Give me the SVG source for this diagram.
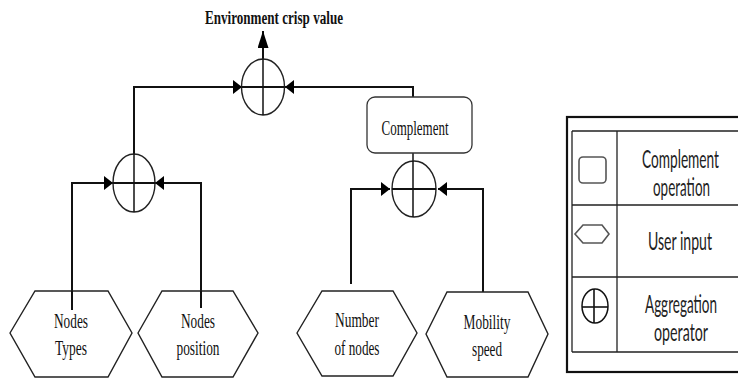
<svg xmlns="http://www.w3.org/2000/svg" width="738" height="379" viewBox="0 0 738 379">
  <style>
    .hex { fill: #fff; stroke: #222; stroke-width: 1.4; }
    .agg { fill: #fff; stroke: #222; stroke-width: 1.4; }
    .cross { stroke: #111; stroke-width: 1.5; }
    .crossH { stroke: #111; stroke-width: 2; }
    .conn { fill: none; stroke: #111; stroke-width: 2; }
    .lbl { font-family: "Liberation Serif", "Times New Roman", serif; font-size: 22px; fill: #111; text-anchor: middle; }
    .title { font-family: "Liberation Serif", "Times New Roman", serif; font-size: 18px; font-weight: bold; fill: #111; text-anchor: middle; }
    .leg { font-family: Lato, "Open Sans", "Liberation Sans", sans-serif; font-size: 15px; fill: #222; text-anchor: middle; }
    .grid { stroke: #222; stroke-width: 1.3; fill: none; }
  </style>
  <defs>
    <marker id="arr" markerUnits="userSpaceOnUse" markerWidth="9" markerHeight="14" refX="9" refY="7" orient="auto">
      <path d="M0,0 L9,7 L0,14 z" fill="#000"/>
    </marker>
    <marker id="arrUp" markerUnits="userSpaceOnUse" markerWidth="17" markerHeight="11" refX="17" refY="5.5" orient="auto">
      <path d="M0,0 L17,5.5 L0,11 z" fill="#000"/>
    </marker>
  </defs>

  <!-- output label -->
  <text class="title" x="274" y="24" textLength="138" lengthAdjust="spacingAndGlyphs">Environment crisp value</text>

  <!-- connectors -->
  <g id="connectors">
    <path class="conn" d="M263,59 L263,31" marker-end="url(#arrUp)"/>
    <path class="conn" d="M134,154 L134,87 L242,87" marker-end="url(#arr)"/>
    <path class="conn" d="M413,97 L413,87 L285,87" marker-end="url(#arr)"/>
    <path class="conn" d="M413,161 L413,153" style="stroke-width:1.5"/>
    <path class="conn" d="M72,310 L72,183 L113,183" marker-end="url(#arr)"/>
    <path class="conn" d="M201,308 L201,183 L155,183" marker-end="url(#arr)"/>
    <path class="conn" d="M351,284 L351,189 L390,189" marker-end="url(#arr)"/>
    <path class="conn" d="M483,293 L483,189 L438,189" marker-end="url(#arr)"/>
  </g>

  <!-- aggregation operators -->
  <g id="agg-top">
    <ellipse class="agg" cx="263" cy="87" rx="21.5" ry="28"/>
    <line class="crossH" x1="241.5" y1="87" x2="284.5" y2="87"/>
    <line class="cross" x1="263" y1="59" x2="263" y2="115"/>
  </g>
  <g id="agg-left">
    <ellipse class="agg" cx="134" cy="183" rx="21" ry="29"/>
    <line class="crossH" x1="113" y1="183" x2="155" y2="183"/>
    <line class="cross" x1="134" y1="154" x2="134" y2="212"/>
  </g>
  <g id="agg-right">
    <ellipse class="agg" cx="414" cy="189" rx="22" ry="28"/>
    <line class="crossH" x1="392" y1="189" x2="436" y2="189"/>
    <line class="cross" x1="413" y1="161" x2="413" y2="217"/>
  </g>

  <!-- complement operation -->
  <g id="complement">
    <rect x="367" y="97" width="105" height="56" rx="8" fill="#fff" stroke="#333" stroke-width="1.3"/>
    <text class="lbl" x="415" y="135" textLength="67" lengthAdjust="spacingAndGlyphs">Complement</text>
  </g>

  <!-- user inputs -->
  <g id="in-nodes-types">
    <polygon class="hex" points="10,333 35,291 108,291 132,333 108,377 35,377"/>
    <line class="conn" x1="72" y1="291" x2="72" y2="310"/>
    <text class="lbl" x="71" y="328" textLength="34" lengthAdjust="spacingAndGlyphs">Nodes</text>
    <text class="lbl" x="71" y="355" textLength="32" lengthAdjust="spacingAndGlyphs">Types</text>
  </g>
  <g id="in-nodes-position">
    <polygon class="hex" points="138,333 162,291 233,291 258,333 233,377 162,377"/>
    <line class="conn" x1="201" y1="291" x2="201" y2="308"/>
    <text class="lbl" x="198" y="328" textLength="34" lengthAdjust="spacingAndGlyphs">Nodes</text>
    <text class="lbl" x="198" y="355" textLength="43" lengthAdjust="spacingAndGlyphs">position</text>
  </g>
  <g id="in-number-nodes">
    <polygon class="hex" points="297,333 322,291 393,291 417,333 393,376 322,376"/>
    <text class="lbl" x="357" y="327" textLength="44" lengthAdjust="spacingAndGlyphs">Number</text>
    <text class="lbl" x="357" y="355" textLength="45" lengthAdjust="spacingAndGlyphs">of nodes</text>
  </g>
  <g id="in-mobility-speed">
    <polygon class="hex" points="426,334 447,292 528,292 548,334 528,377 447,377"/>
    <text class="lbl" x="487" y="329" textLength="47" lengthAdjust="spacingAndGlyphs">Mobility</text>
    <text class="lbl" x="487" y="356" textLength="30" lengthAdjust="spacingAndGlyphs">speed</text>
  </g>

  <!-- legend -->
  <g id="legend">
    <rect x="567" y="117" width="180" height="255" fill="#fff" stroke="#111" stroke-width="2.2"/>
    <path class="grid" d="M572,131 L740,131 M572,205 L740,205 M572,277 L740,277 M572,352 L740,352 M572,131 L572,352 M617,131 L617,352"/>
    <rect x="579" y="157" width="27" height="26" rx="4" fill="#fff" stroke="#555" stroke-width="1.6"/>
    <polygon points="575,234 583,225 602,225 609,234 602,243 583,243" fill="#fff" stroke="#555" stroke-width="1.6"/>
    <ellipse cx="595" cy="306" rx="13" ry="17" fill="#fff" stroke="#111" stroke-width="1.5"/>
    <line x1="582" y1="307" x2="608" y2="307" stroke="#111" stroke-width="1.6"/>
    <line x1="594" y1="289" x2="594" y2="323" stroke="#111" stroke-width="1.6"/>
    <!-- legend labels: tall, narrow lettering -->
    <text class="leg" transform="translate(680.5,168) scale(1,1.7)" textLength="77" lengthAdjust="spacingAndGlyphs">Complement</text>
    <text class="leg" transform="translate(681.5,196) scale(1,1.7)" textLength="57" lengthAdjust="spacingAndGlyphs">operation</text>
    <text class="leg" transform="translate(680,250) scale(1,1.7)" textLength="64" lengthAdjust="spacingAndGlyphs">User input</text>
    <text class="leg" transform="translate(681,313) scale(1,1.7)" textLength="72" lengthAdjust="spacingAndGlyphs">Aggregation</text>
    <text class="leg" transform="translate(681,341) scale(1,1.7)" textLength="54" lengthAdjust="spacingAndGlyphs">operator</text>
  </g>
</svg>
